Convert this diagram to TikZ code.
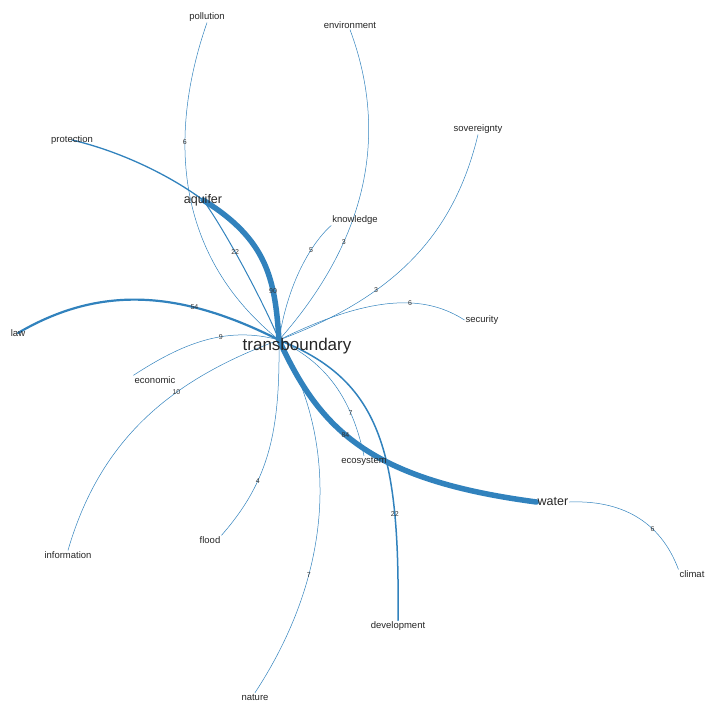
\documentclass[tikz,border=0pt]{standalone}
\usepackage{fontspec}
\setmainfont{Liberation Sans}
\usetikzlibrary{positioning}
\definecolor{EdgeBlue}{RGB}{49,130,189}
\pgfdeclarelayer{bg}
\pgfsetlayers{bg,main}
\tikzstyle{edge}=[draw=EdgeBlue, line cap=round, line width=0.5pt]
\tikzstyle{wt}=[font=\fontsize{7}{7}\selectfont, text=black!80, inner sep=0.5pt]

\begin{document}
\begin{tikzpicture}[x=1pt, y=-1pt, every node/.style={inner sep=1pt,
        text=black!85, font=\fontsize{9.5}{9.5}\selectfont}]
    \useasboundingbox (0,0) rectangle (707,701);
    \coordinate (tb) at (279,340);
    \node (trans) at (297,346) [font=\fontsize{17}{17}\selectfont] {transboundary};
    \node (aquifer) at (203,200) [font=\fontsize{12.5}{12.5}\selectfont] {aquifer};
    \node (water) at (553,502) [font=\fontsize{12.5}{12.5}\selectfont] {water};
    \node (pollution) at (207,17) {pollution}; \node (environment) at (350,25)
        {environment}; \node (protection) at (72,140) {protection};
    \node (sovereignty) at (478,129) {sovereignty}; \node (knowledge) at
        (355,220) {knowledge}; \node (law) at (18,333) {law}; \node (security)
        at (482,320) {security}; \node (economic) at (155,380) {economic};
    \node (ecosystem) at (364,461) {ecosystem}; \node (information) at
        (68,555) {information}; \node (flood) at (210,540) {flood};
    \node (climat) at (692,574) {climat}; \node (development) at (398,626)
        {development}; \node (nature) at (255,697) {nature};
    \begin{pgfonlayer}{bg}
    \draw[edge, line width=5.5pt] (tb) .. controls (275,280) and (268,240) ..
        (aquifer.center) node[wt, pos=0.3] {90};
    \draw[edge, line width=1pt] (tb) .. controls (265,305) and (225,230) ..
        (aquifer.center) node[wt, pos=0.6] {22};
    \draw[edge, line width=1.3pt] (aquifer.center) .. controls (165,172) and
        (115,150) .. (protection.center);
    \draw[edge] (pollution.south) .. controls (180,100) and (155,240) .. (tb)
        node[wt, pos=0.41] {6};
    \draw[edge] (environment.south) .. controls (380,110) and (385,220) ..
        (tb) node[wt, pos=0.72] {3};
    \draw[edge] (knowledge.south west) .. controls (320,235) and (290,270) ..
        (tb) node[wt, pos=0.4] {5};
    \draw[edge] (sovereignty.south) .. controls (455,230) and (400,295) ..
        (tb) node[wt, pos=0.68] {3};
    \draw[edge] (security.west) .. controls (430,298) and (380,290) .. (tb)
        node[wt, pos=0.42] {6};
    \draw[edge, line width=2.2pt] (law.center) .. controls (100,285) and
        (180,290) .. (tb) node[wt, pos=0.7] {54};
    \draw[edge] (economic.north west) .. controls (180,345) and (225,325) ..
        (tb) node[wt, pos=0.62] {9};
    \draw[edge] (information.north) .. controls (100,440) and (170,380) ..
        (tb) node[wt, pos=0.64] {10};
    \draw[edge] (flood.north east) .. controls (270,480) and (280,430) ..
        (tb) node[wt, pos=0.33] {4};
    \draw[edge] (nature.north) .. controls (342,560) and (333,430) .. (tb)
        node[wt, pos=0.3] {7};
    \draw[edge, line width=5.5pt] (tb) .. controls (320,430) and (370,480) ..
        (water.west) node[wt, pos=0.43] {84};
    \draw[edge] (tb) .. controls (320,360) and (350,390) .. (ecosystem.north)
        node[wt, pos=0.75] {7};
    \draw[edge, line width=1.5pt] (tb) .. controls (380,380) and (400,450) ..
        (development.north) node[wt, pos=0.76] {22};
    \draw[edge] (water.east) .. controls (620,500) and (660,520) ..
        (climat.north west) node[wt, pos=0.66] {6};
    \end{pgfonlayer}
\end{tikzpicture}
\end{document}
